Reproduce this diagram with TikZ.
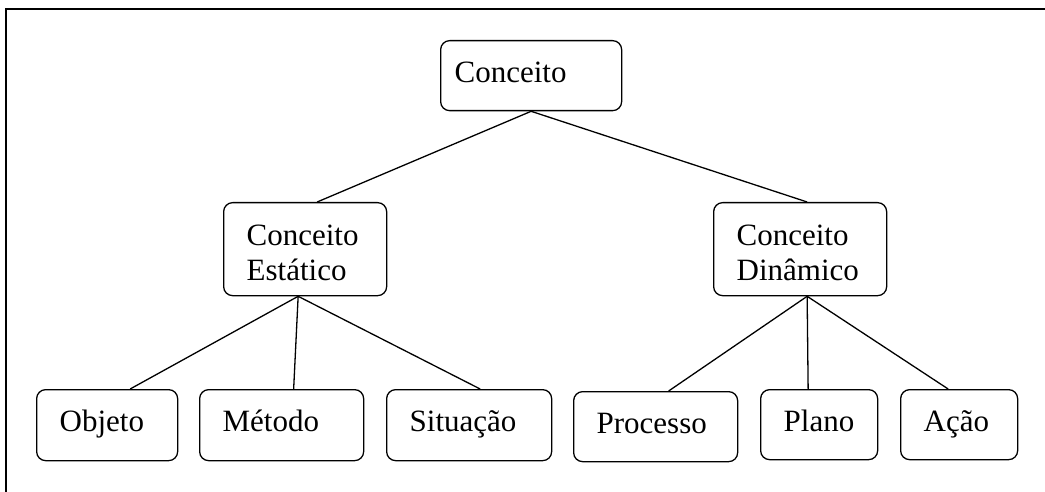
\documentclass[tikz,border=0pt]{standalone}
\usepackage{fontspec}
\setmainfont{Liberation Serif}
\usepackage{tikz}
\usetikzlibrary{positioning}

\begin{document}
\begin{tikzpicture}[
    x=1pt, y=-1pt,
    box/.style={draw, line width=1.3pt, rounded corners=9pt, anchor=north west, align=left, inner xsep=23pt, inner ysep=0pt, text height=21pt, text depth=8pt, font=\fontsize{31}{35}\selectfont},
    twoline/.style={text depth=28pt},
    link/.style={line width=1.3pt}
]
    \useasboundingbox (0,0) rectangle (1045,492);

    % Frame
    \draw[line width=2pt, line join=miter] (6,492) -- (6,9) -- (1045,9);

    % Top concept
    \node[box, inner xsep=14pt, text width=153pt, minimum height=70pt] (concept) at (440,40) {Conceito};

    % Second level
    \node[box, twoline, text width=117pt, minimum height=93pt] (static) at (223,202) {Conceito\\Estático};
    \node[box, twoline, text width=127pt, minimum height=93pt] (dynamic) at (713,202) {Conceito\\Dinâmico};

    % Static children
    \node[box, text width=95pt, minimum height=71pt] (object) at (36,389) {Objeto};
    \node[box, text width=118pt, minimum height=71pt] (method) at (199,389) {Método};
    \node[box, text width=119pt, minimum height=71pt] (situation) at (386,389) {Situação};

    % Dynamic children
    \node[box, text width=118pt, minimum height=70pt] (process) at (573,391) {Processo};
    \node[box, text width=71pt, minimum height=70pt] (plan) at (760,389) {Plano};
    \node[box, text width=71pt, minimum height=70pt] (action) at (900,389) {Ação};

    % Links
    \draw[link] (concept.south) -- ([xshift=12pt]static.north);
    \draw[link] (concept.south) -- ([xshift=7pt]dynamic.north);
    \draw[link] ([xshift=-7pt]static.south) -- ([xshift=23pt]object.north);
    \draw[link] ([xshift=-7pt]static.south) -- ([xshift=12pt]method.north);
    \draw[link] ([xshift=-7pt]static.south) -- ([xshift=11pt]situation.north);
    \draw[link] ([xshift=7pt]dynamic.south) -- ([xshift=13pt]process.north);
    \draw[link] ([xshift=7pt]dynamic.south) -- ([xshift=-11pt]plan.north);
    \draw[link] ([xshift=7pt]dynamic.south) -- ([xshift=-11pt]action.north);

\end{tikzpicture}
\end{document}
